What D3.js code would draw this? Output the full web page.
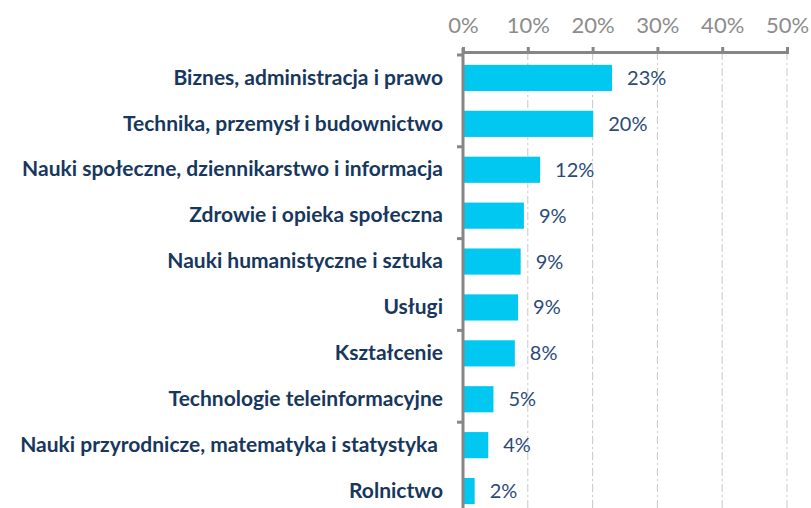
<!DOCTYPE html>
<html>
<head>
<meta charset="utf-8">
<script src="https://cdn.jsdelivr.net/npm/d3@7"></script>
<style>
  body { margin: 0; background: #fff; }
  svg { display: block; }
  .cat-axis text { font-family: Lato, sans-serif; font-weight: bold; font-size: 21px; fill: #17375e; }
  .val-axis text { font-family: Lato, sans-serif; font-size: 22px; fill: #8c8c8c; }
  .val-label { font-family: Lato, sans-serif; font-size: 20px; fill: #2a4a78; }
</style>
</head>
<body>
<svg id="chart" width="811" height="508"></svg>
<script>
var categories = [
  "Biznes, administracja i prawo",
  "Technika, przemysł i budownictwo",
  "Nauki społeczne, dziennikarstwo i informacja",
  "Zdrowie i opieka społeczna",
  "Nauki humanistyczne i sztuka",
  "Usługi",
  "Kształcenie",
  "Technologie teleinformacyjne",
  "Nauki przyrodnicze, matematyka i statystyka\u00a0",
  "Rolnictwo"
];
var shares = [23.0, 20.1, 11.9, 9.4, 8.9, 8.5, 8.0, 4.7, 3.9, 1.8];
var tickValues = [0, 10, 20, 30, 40, 50];

var data = categories.map((c, i) => ({ name: c, value: shares[i] }));

var svg = d3.select("#chart");
var margin = { top: 52, right: 24, bottom: -6, left: 463 };
var width = +svg.attr("width") - margin.left - margin.right;
var height = +svg.attr("height") - margin.top - margin.bottom;

var x = d3.scaleLinear().domain([0, 50]).range([0, width]);
var y = d3.scaleBand()
  .domain(categories)
  .range([3, height])
  .paddingInner(0.43)
  .paddingOuter(0.215);

var g = svg.append("g")
  .attr("transform", "translate(" + margin.left + "," + margin.top + ")");

// dash-dot gridlines
g.append("g")
  .selectAll("line")
  .data(tickValues.slice(1))
  .enter()
  .append("line")
  .attr("x1", d => x(d)).attr("x2", d => x(d))
  .attr("y1", 0).attr("y2", height)
  .attr("stroke", "#c8c8c8")
  .attr("stroke-width", 1)
  .attr("stroke-dasharray", "8,3,2,3");

// bars
g.selectAll(".bar")
  .data(data)
  .enter()
  .append("rect")
  .attr("class", "bar")
  .attr("x", 0)
  .attr("y", d => y(d.name))
  .attr("height", y.bandwidth())
  .attr("width", d => x(d.value))
  .attr("fill", "#00c8f0");

// value labels
g.selectAll(".val-label")
  .data(data)
  .enter()
  .append("text")
  .attr("class", "val-label")
  .attr("x", d => x(d.value) + 15)
  .attr("y", d => y(d.name) + y.bandwidth() / 2)
  .attr("dy", "0.35em")
  .text(d => Math.round(d.value) + "%");

// top value axis
var xAxis = g.append("g")
  .attr("class", "val-axis")
  .call(d3.axisTop(x).tickValues(tickValues).tickSize(5).tickPadding(14).tickFormat(d => d + "%"));
xAxis.selectAll("line").attr("stroke", "#868686").attr("stroke-width", 3);
xAxis.select(".domain").attr("stroke", "#868686").attr("stroke-width", 3);

// category axis (labels only)
var yAxis = g.append("g")
  .attr("class", "cat-axis")
  .call(d3.axisLeft(y).tickSize(0).tickPadding(20));
yAxis.select(".domain").remove();

// category axis line + tick marks every 2 categories
var step = y.step();
var bounds = d3.range(0, categories.length + 1, 2).map(i => y(categories[0]) - y.step() * y.paddingInner() / 2 + i * step);
g.append("line")
  .attr("x1", 0).attr("x2", 0)
  .attr("y1", -4).attr("y2", height)
  .attr("stroke", "#868686")
  .attr("stroke-width", 3);
g.append("g")
  .selectAll("line")
  .data(bounds)
  .enter()
  .append("line")
  .attr("x1", -6).attr("x2", 0)
  .attr("y1", d => d).attr("y2", d => d)
  .attr("stroke", "#868686")
  .attr("stroke-width", 3);
</script>
</body>
</html>
